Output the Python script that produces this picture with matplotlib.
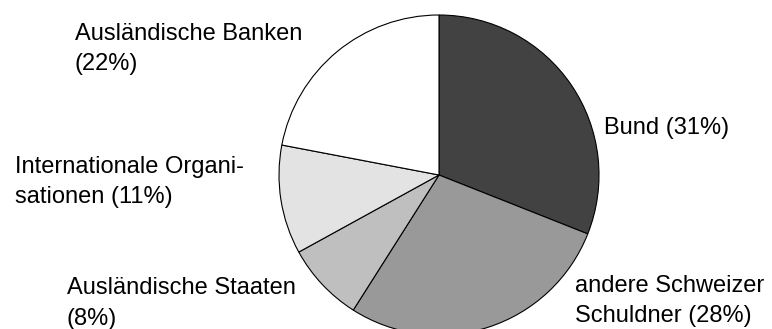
import matplotlib
matplotlib.use("Agg")
import matplotlib.pyplot as plt

# Daten
kategorien = ["Bund", "andere Schweizer Schuldner", "Ausländische Staaten",
              "Internationale Organisationen", "Ausländische Banken"]
anteile = [31, 28, 8, 11, 22]
farben = ["#424242", "#999999", "#bfbfbf", "#e3e3e3", "#ffffff"]

# Beschriftungen (Text, x-Pixel links, Baseline der letzten Zeile in y-Pixel)
beschriftungen = [
    ("Bund (31%)", 604, 134),
    ("andere Schweizer\nSchuldner (28%)", 575, 322),
    ("Ausländische Staaten\n(8%)", 67, 325),
    ("Internationale Organi-\nsationen (11%)", 15, 203),
    ("Ausländische Banken\n(22%)", 75, 70),
]

W, H = 772, 329
plt.rcParams['font.family'] = ['Liberation Sans', 'DejaVu Sans']

fig = plt.figure(figsize=(W / 100, H / 100), dpi=100)

# Kreis: Mitte (439, 175), Radius 160 Pixel
cx, cy, r = 439, 175, 160
ax = fig.add_axes([(cx - r) / W, (H - cy - r) / H, 2 * r / W, 2 * r / H])
ax.pie(anteile, colors=farben, startangle=90, counterclock=False,
       wedgeprops=dict(edgecolor="black", linewidth=0.8))
ax.set_xlim(-1, 1)
ax.set_ylim(-1, 1)
ax.set_aspect("equal")
ax.axis("off")

for text, x, y in beschriftungen:
    fig.text(x / W, 1 - y / H, text, fontsize=17, ha="left", va="baseline",
             linespacing=1.5, color="black")

fig.savefig("out.png", dpi=100)
